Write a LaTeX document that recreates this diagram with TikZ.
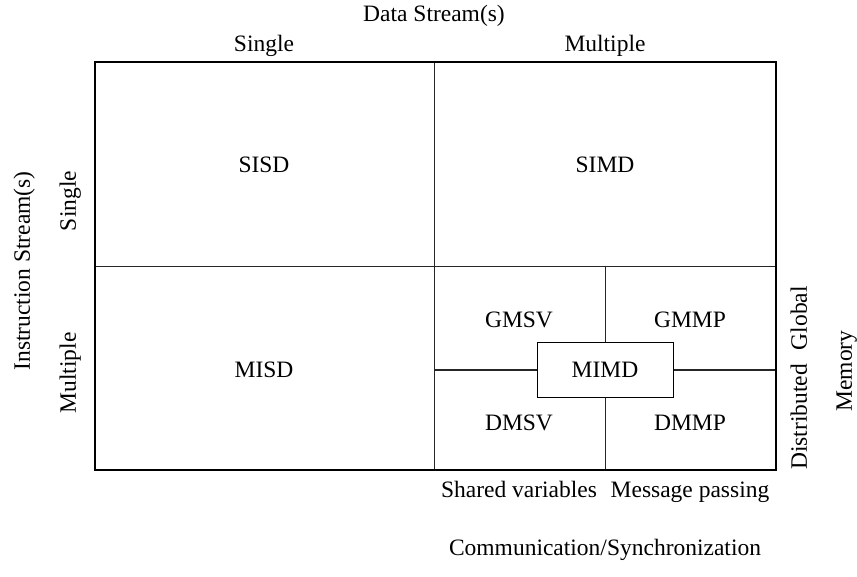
\documentclass[tikz,border=0pt]{standalone}
\usepackage{fontspec}
\setmainfont{Liberation Serif}
\usetikzlibrary{positioning}

\begin{document}
\begin{tikzpicture}[x=1pt, y=-1pt, font=\fontsize{23.5}{28}\selectfont,
    frame/.style={line width=2.6pt},
    grid/.style={line width=1pt, draw=black!85},
    lbl/.style={inner sep=0pt, anchor=center, text height=17pt, text depth=1.5pt},
    vlbl/.style={lbl, rotate=90}]
        \useasboundingbox (0,0) rectangle (857,577);

        % outer frame and quadrants
        \coordinate (tl) at (95,62);
        \coordinate (br) at (776,470);
        \coordinate (topmid) at (434,62);
        \coordinate (botmid) at (434,470);
        \coordinate (midleft) at (95,267);
        \coordinate (midright) at (776,267);
        \draw[grid] (topmid) -- (botmid);
        \draw[grid] (midleft) -- (midright);

        % MIMD sub-division
        \node[draw, line width=1pt, minimum width=136pt, minimum height=54pt, lbl] (mimd) at (605,370) {MIMD};
        \coordinate (mimdtop) at (605,267);
        \coordinate (mimdbot) at (605,470);
        \coordinate (mimdleft) at (434,370);
        \coordinate (mimdright) at (776,370);
        \draw[grid] (mimdtop) -- (mimd.north);
        \draw[grid] (mimd.south) -- (mimdbot);
        \draw[grid] (mimdleft) -- (mimd.west);
        \draw[grid] (mimd.east) -- (mimdright);
        \draw[frame] (tl) rectangle (br);

        % class names
        \node[lbl] (sisd) at (264,165) {SISD};
        \node[lbl] (simd) at (605,165) {SIMD};
        \node[lbl] (misd) at (264,370) {MISD};
        \node[lbl] (gmsv) at (519,320) {GMSV};
        \node[lbl] (gmmp) at (690,320) {GMMP};
        \node[lbl] (dmsv) at (519,423) {DMSV};
        \node[lbl] (dmmp) at (690,423) {DMMP};

        % axis labels
        \node[lbl] (data) at (434,14) {Data Stream(s)};
        \node[lbl] (dsingle) at (264,44) {Single};
        \node[lbl] (dmultiple) at (605,44) {Multiple};
        \node[vlbl] (instr) at (22,271) {Instruction Stream(s)};
        \node[vlbl] (isingle) at (68,201) {Single};
        \node[vlbl] (imultiple) at (68,373) {Multiple};
        \node[vlbl] (distglob) at (799,378) {Distributed\hspace{0.6em}Global};
        \node[vlbl] (memory) at (844,371) {Memory};
        \node[lbl] (shared) at (519,490) {Shared variables};
        \node[lbl] (message) at (690,490) {Message passing};
        \node[lbl] (comm) at (605,548) {Communication/Synchronization};
    \end{tikzpicture}
\end{document}
